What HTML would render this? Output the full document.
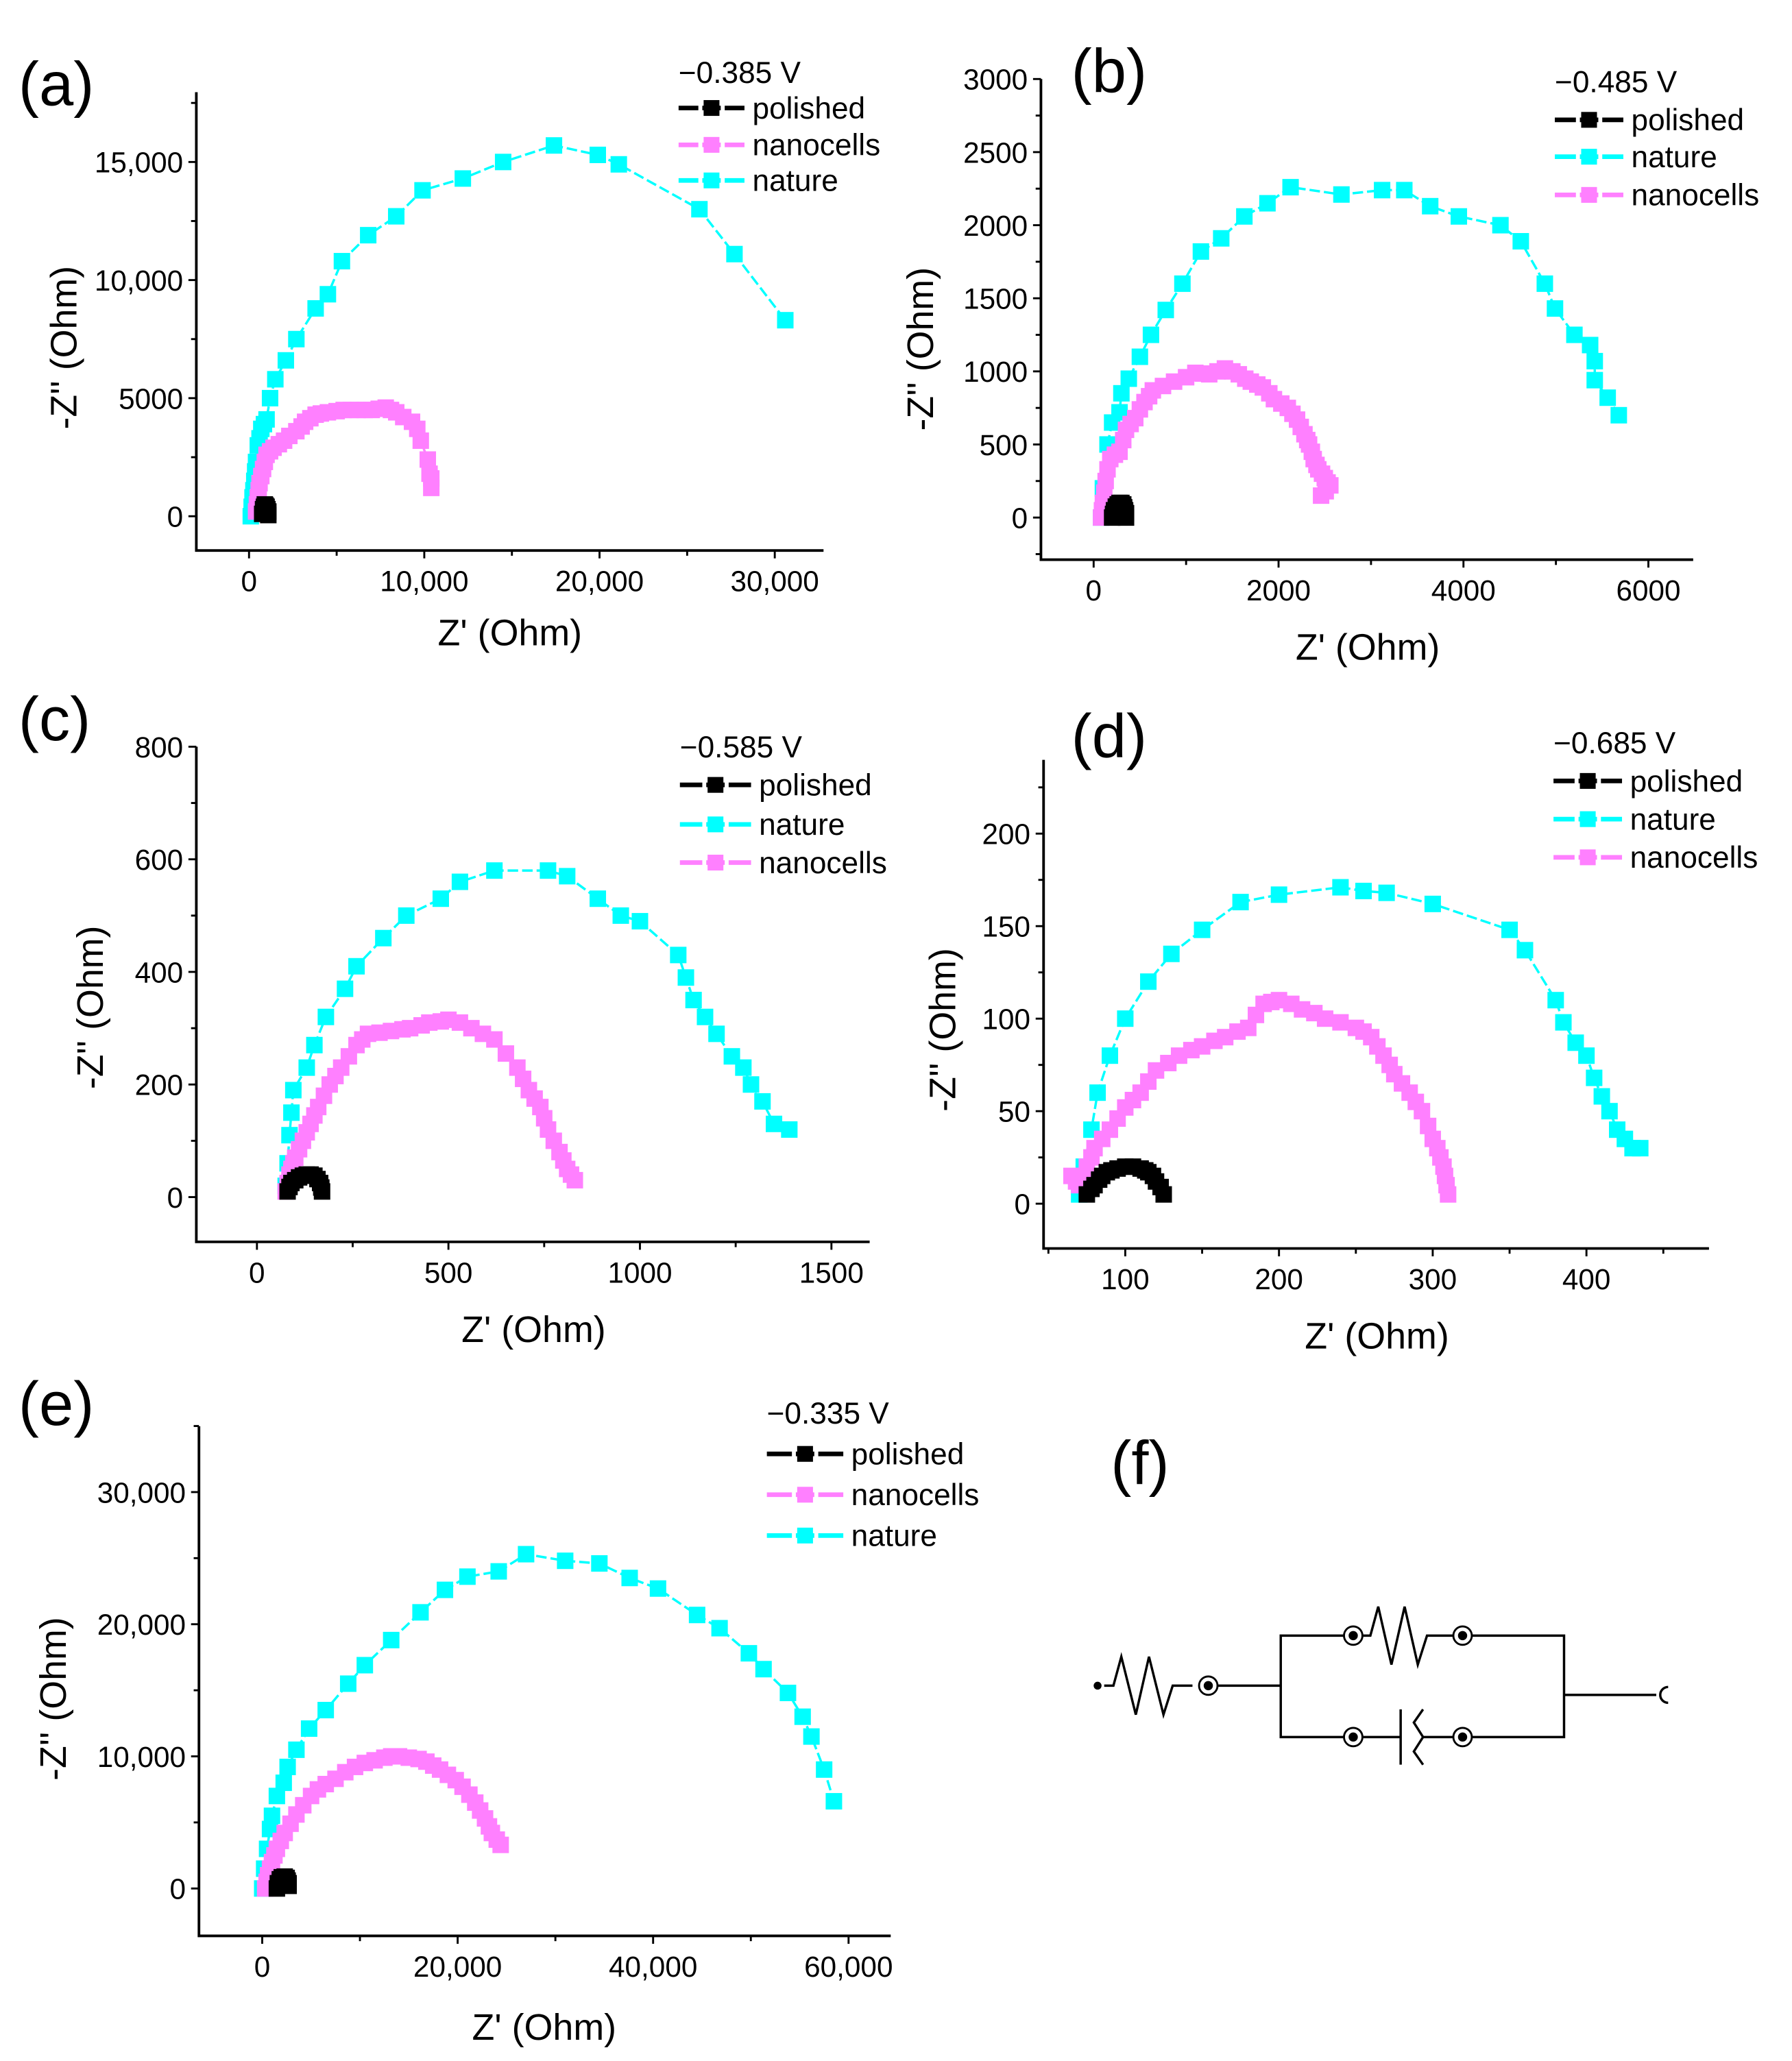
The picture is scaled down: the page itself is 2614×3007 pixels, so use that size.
<!DOCTYPE html>
<html><head><meta charset="utf-8"><style>
html,body{margin:0;padding:0;background:#fff}
svg{display:block}
text{font-family:"Liberation Sans",Arial,sans-serif;fill:#000}
</style></head><body>
<svg id="fig" xmlns="http://www.w3.org/2000/svg" width="2614" height="3007" viewBox="0 0 1360 1565" preserveAspectRatio="none"></svg>
<script>
// ---- Panel (a) data ----
const aNatureX=[100,150,200,250,300,350,400,500,600,700,850,1000,1200,1500,2100,2700,3800,4500,5300,6800,8400,9900,12200,14500,17400,19900,21100,25700,27700,30600];
const aNatureY=[0,400,800,1100,1500,1900,2300,3000,3300,3700,3900,4100,5000,5800,6600,7500,8800,9400,10800,11900,12700,13800,14300,15000,15700,15300,14900,13000,11100,8300];
const aNanoX=[400,450,500,550,600,700,800,900,1000,1200,1400,1700,2000,2300,2700,3000,3200,3500,3800,4100,4500,5000,5400,5800,6200,6600,7000,7400,7800,8100,8400,8800,9300,9600,9800,10200,10300,10400,10400];
const aNanoY=[200,500,800,1100,1400,1700,2000,2300,2600,2750,2900,3050,3200,3400,3600,3800,4000,4150,4300,4350,4400,4450,4500,4500,4500,4500,4500,4550,4600,4500,4400,4200,4000,3700,3200,2400,1800,1600,1200];
const aPolX=[750,800,850,900,950,1000,1050,1100,1100];
const aPolY=[100,300,400,500,450,400,300,200,50];
// ---- Panel (b) data ----
const bNatureX=[80,100,150,200,280,300,380,500,620,780,960,1160,1380,1630,1880,2130,2680,3120,3360,3640,3950,4400,4620,4880,4990,5200,5370,5420,5420,5560,5680];
const bNatureY=[0,200,500,650,720,850,950,1100,1250,1420,1600,1820,1910,2060,2150,2260,2210,2240,2240,2130,2060,2000,1890,1600,1430,1250,1180,1070,940,820,700];
const bNanoX=[80,90,100,115,130,150,180,230,280,320,350,400,450,500,550,600,640,750,870,1000,1100,1180,1250,1340,1420,1500,1570,1640,1700,1770,1830,1900,1950,2030,2100,2150,2200,2240,2280,2310,2330,2360,2380,2410,2430,2470,2500,2530,2560,2510,2460];
const bNanoY=[0,50,100,170,250,330,400,430,450,530,600,640,680,740,790,830,870,900,930,960,990,985,980,1000,1020,1000,980,950,930,910,890,850,810,780,750,710,670,620,570,530,500,450,400,360,330,300,270,240,220,180,150];
const bPolX=[200,210,220,240,260,280,300,320,330,340,350,350];
const bPolY=[0,25,50,75,90,100,100,90,70,50,30,0];
// ---- Panel (c) data ----
const cNatureX=[75,80,85,90,95,130,150,180,230,260,330,390,480,530,620,760,810,890,950,1000,1100,1120,1140,1170,1200,1240,1270,1290,1320,1350,1390];
const cNatureY=[20,60,110,150,190,230,270,320,370,410,460,500,530,560,580,580,570,530,500,490,430,390,350,320,290,250,230,200,170,130,120];
const cNanoX=[75,80,85,90,95,100,110,120,130,140,150,160,175,190,205,220,240,260,275,290,320,350,380,400,430,450,480,500,530,560,590,620,650,680,695,710,725,740,750,760,775,790,800,810,820,830];
const cNanoY=[10,25,40,50,60,70,85,100,115,130,145,160,180,200,215,230,250,270,280,290,292,295,298,300,305,310,312,315,310,300,290,280,255,230,210,190,175,160,140,120,100,80,65,50,40,30];
const cPolX=[80,85,90,100,110,120,130,140,150,158,165,168,170];
const cPolY=[10,18,25,30,35,38,40,40,38,32,25,17,10];
// ---- Panel (d) data ----
const dNatureX=[70,73,78,82,90,100,115,130,150,175,200,240,255,270,300,350,360,380,385,393,400,405,410,415,420,425,430,435];
const dNatureY=[5,20,40,60,80,100,120,135,148,163,167,171,169,168,162,148,137,110,98,87,80,68,58,50,40,35,30,30];
const dNanoX=[65,68,70,73,75,78,80,85,90,95,100,105,110,115,120,128,135,143,150,158,165,173,180,185,190,195,200,208,215,223,230,240,250,255,260,264,268,272,275,280,285,289,293,297,300,303,305,307,308,309,310];
const dNanoY=[15,12,10,15,20,25,30,35,40,46,52,56,60,66,72,76,80,83,85,88,90,93,95,102,108,109,110,108,105,103,100,98,95,93,90,85,80,75,70,65,60,55,50,42,35,30,25,20,15,10,5];
const dPolX=[75,78,80,83,85,88,91,95,100,105,110,113,115,118,120,123,125];
const dPolY=[5,8,10,13,15,17,18,19,20,20,19,18,17,15,12,9,5];
// ---- Panel (e) data ----
const eNatureX=[0,200,500,800,1000,1500,2200,2600,3500,4800,6500,8800,10500,13200,16200,18700,21000,24200,27000,31000,34500,37600,40500,44500,46800,49800,51300,53800,55300,56200,57500,58500];
const eNatureY=[0,1500,3000,4500,5500,7000,8000,9200,10500,12100,13500,15500,16900,18800,20900,22600,23600,24000,25300,24800,24600,23500,22700,20700,19700,17800,16600,14800,13000,11500,9000,6600];
const eNanoX=[300,450,600,800,1000,1250,1500,1900,2300,2900,3500,4200,5000,5700,6500,7500,8500,9500,10500,11500,12500,13200,14000,15000,16000,16800,17500,18200,19000,19800,20500,21200,21800,22300,22800,23200,23500,24000,24400];
const eNanoY=[0,500,1000,1500,2000,2500,3000,3600,4200,4900,5600,6300,7000,7500,7900,8300,8800,9200,9500,9700,9900,10000,10000,9900,9800,9600,9300,9000,8600,8200,7700,7100,6500,5900,5300,4700,4200,3700,3300];
const ePolX=[1500,1600,1800,2000,2300,2500,2600,2700,2700];
const ePolY=[0,400,700,850,900,800,600,400,200];
// ---- tick labels ----
const aXTicks=[0,10000,20000,30000], aXLabels=["0","10,000","20,000","30,000"];
const aYTicks=[0,5000,10000,15000], aYLabels=["0","5000","10,000","15,000"];
const bXTicks=[0,2000,4000,6000], bXLabels=["0","2000","4000","6000"];
const bYTicks=[0,500,1000,1500,2000,2500,3000], bYLabels=["0","500","1000","1500","2000","2500","3000"];
const cXTicks=[0,500,1000,1500], cXLabels=["0","500","1000","1500"];
const cYTicks=[0,200,400,600,800], cYLabels=["0","200","400","600","800"];
const dXTicks=[100,200,300,400], dXLabels=["100","200","300","400"];
const dYTicks=[0,50,100,150,200], dYLabels=["0","50","100","150","200"];
const eXTicks=[0,20000,40000,60000], eXLabels=["0","20,000","40,000","60,000"];
const eYTicks=[0,10000,20000,30000], eYLabels=["0","10,000","20,000","30,000"];

const NS="http://www.w3.org/2000/svg";
const svg=document.getElementById('fig');
function el(tag,attrs,parent){const e=document.createElementNS(NS,tag);for(const k in attrs)e.setAttribute(k,attrs[k]);(parent||svg).appendChild(e);return e;}
const COL={pol:"#000000",nano:"#ff80ff",nat:"#00ffff"};
const MS=12.5;

function panel(p){
  const g=el('g',{});
  
  
  const sx=v=>p.x0+(v-p.xv0)*(p.x1-p.x0)/(p.xv1-p.xv0);
  const sy=v=>p.y0+(v-p.yv0)*(p.y1-p.y0)/(p.yv1-p.yv0);
  const ax=el('path',{d:`M${p.axL},${p.axT}V${p.axB}H${p.axR}`,fill:'none',stroke:'#000','stroke-width':2},g);
  
  
  const xstep=p.xt[1]-p.xt[0], ystep=p.yt[1]-p.yt[0];
  for(let v=p.xt[0]-xstep;v<=p.xt[p.xt.length-1]+xstep;v+=xstep/2){
    const x=sx(v); if(x<p.axL||x>p.axR)continue;
    const major=p.xt.includes(v);
    el('line',{x1:x,x2:x,y1:p.axB,y2:p.axB+(major?6:4),stroke:'#000','stroke-width':1.5},g);
  }
  p.xt.forEach((v,i)=>{const t=el('text',{x:sx(v),y:p.axB+31,'text-anchor':'middle','font-size':22},g);t.textContent=p.xl[i];
    });
  for(let v=p.yt[0]-ystep;v<=p.yt[p.yt.length-1]+ystep;v+=ystep/2){
    const y=sy(v); if(y<p.axT-1||y>p.axB)continue;
    const major=p.yt.includes(v);
    el('line',{x1:p.axL,x2:p.axL-(major?6:4),y1:y,y2:y,stroke:'#000','stroke-width':1.5},g);
  }
  p.yt.forEach((v,i)=>{const t=el('text',{x:p.axL-10,y:sy(v)+8,'text-anchor':'end','font-size':22},g);t.textContent=p.yl[i];
    });
  const xt=el('text',{x:p.xtx,y:p.xty,'text-anchor':'middle','font-size':28},g);xt.textContent="Z' (Ohm)";
  
  const yt=el('text',{x:0,y:0,'text-anchor':'middle','font-size':28,transform:`translate(${p.ytx},${p.yty}) rotate(-90)`},g);yt.textContent="-Z'' (Ohm)";
  
  const pl=el('text',{x:p.lx,y:p.ly,'font-size':47},g);pl.textContent='('+p.id+')';
  
  p.series.forEach(s=>{
    const pts=s.X.map((v,i)=>sx(v)+','+sy(s.Y[i])).join(' ');
    const line=el('polyline',{points:pts,fill:'none',stroke:s.c,'stroke-width':1.8,'stroke-dasharray':s.k==='pol'?'none':'8 3'},g);
    
    s.X.forEach((v,i)=>{
      const m=el('rect',{x:sx(v)-MS/2,y:sy(s.Y[i])-MS/2,width:MS,height:MS,fill:s.c},g);
      
      
    });
  });
  const lt=el('text',{x:p.lgx,y:p.lgy[0]+8,'font-size':23},g);lt.textContent=p.volt;
  
  p.lorder.forEach((k,i)=>{
    const y=p.lgy[i+1];const c=COL[k];
    const lg=el('g',{},g);
    
    
    el('line',{x1:p.lgx,x2:p.lgx+p.lgw,y1:y,y2:y,stroke:c,'stroke-width':3.5},lg);
    el('rect',{x:p.lgx+p.lgw/2-6,y:y-6,width:12,height:12,fill:c},lg);
    el('rect',{x:p.lgx+p.lgw/2-10,y:y-3,width:3,height:6,fill:'#fff'},lg);
    el('rect',{x:p.lgx+p.lgw/2+7,y:y-3,width:3,height:6,fill:'#fff'},lg);
    const t=el('text',{x:p.lgx+p.lgw+6,y:y+8,'font-size':23},lg);
    t.textContent={pol:'polished',nano:'nanocells',nat:'nature'}[k];
  });
}
const S=(k,X,Y)=>({k,X,Y,c:COL[k]});
panel({id:'a',axL:149,axT:70,axB:418,axR:625,x0:189,x1:588,xv0:0,xv1:30000,y0:392,y1:123,yv0:0,yv1:15000,
  xt:aXTicks,xl:aXLabels,yt:aYTicks,yl:aYLabels,xtx:387,xty:490,ytx:58,yty:264,lx:14,ly:80,
  volt:'\u22120.385 V',lgx:515,lgy:[55,82,110,137],lgw:50,lorder:['pol','nano','nat'],
  series:[S('nat',aNatureX,aNatureY),S('nano',aNanoX,aNanoY),S('pol',aPolX,aPolY)]});
panel({id:'b',axL:790,axT:60,axB:425,axR:1285,x0:830,x1:1251,xv0:0,xv1:6000,y0:393,y1:60,yv0:0,yv1:3000,
  xt:bXTicks,xl:bXLabels,yt:bYTicks,yl:bYLabels,xtx:1038,xty:501,ytx:708,yty:265,lx:813,ly:70,
  volt:'\u22120.485 V',lgx:1180,lgy:[62,91,119,148],lgw:52,lorder:['pol','nat','nano'],
  series:[S('nat',bNatureX,bNatureY),S('nano',bNanoX,bNanoY),S('pol',bPolX,bPolY)]});
panel({id:'c',axL:149,axT:567,axB:943,axR:660,x0:195,x1:631,xv0:0,xv1:1500,y0:909,y1:567,yv0:0,yv1:800,
  xt:cXTicks,xl:cXLabels,yt:cYTicks,yl:cYLabels,xtx:405,xty:1019,ytx:78,yty:765,lx:14,ly:562,
  volt:'\u22120.585 V',lgx:516,lgy:[567,596,626,655],lgw:54,lorder:['pol','nat','nano'],
  series:[S('nat',cNatureX,cNatureY),S('nano',cNanoX,cNanoY),S('pol',cPolX,cPolY)]});
panel({id:'d',axL:792,axT:577,axB:948,axR:1297,x0:854,x1:1204,xv0:100,xv1:400,y0:914,y1:633,yv0:0,yv1:200,
  xt:dXTicks,xl:dXLabels,yt:dYTicks,yl:dYLabels,xtx:1045,xty:1024,ytx:725,yty:782,lx:813,ly:575,
  volt:'\u22120.685 V',lgx:1179,lgy:[564,593,622,651],lgw:52,lorder:['pol','nat','nano'],
  series:[S('nat',dNatureX,dNatureY),S('nano',dNanoX,dNanoY),S('pol',dPolX,dPolY)]});
panel({id:'e',axL:151,axT:1083,axB:1470,axR:676,x0:199,x1:644,xv0:0,xv1:60000,y0:1434,y1:1133,yv0:0,yv1:30000,
  xt:eXTicks,xl:eXLabels,yt:eYTicks,yl:eYLabels,xtx:413,xty:1549,ytx:50,yty:1290,lx:14,ly:1082,
  volt:'\u22120.335 V',lgx:582,lgy:[1073,1104,1135,1166],lgw:58,lorder:['pol','nano','nat'],
  series:[S('nat',eNatureX,eNatureY),S('nano',eNanoX,eNanoY),S('pol',ePolX,ePolY)]});
</script>
<script>
(function(){
const NS="http://www.w3.org/2000/svg";const svg=document.getElementById('fig');
const g=document.createElementNS(NS,'g');svg.appendChild(g);


g.innerHTML=`
<text x="843" y="1127" font-size="47">(f)</text>
<circle cx="833" cy="1280" r="3" fill="#000"/>
<path d="M838,1280H845L851,1258L862,1302L872,1258L883,1302L890,1280H905" fill="none" stroke="#000" stroke-width="1.8"/>
<circle cx="917" cy="1280" r="7" fill="#fff" stroke="#000" stroke-width="1.5"/><circle cx="917" cy="1280" r="3.5" fill="#000"/>
<path d="M924,1280H972V1242H1020M972,1280V1319H1020M1034,1242H1040L1046,1220L1056,1264L1066,1220L1076,1264L1083,1242H1103M1117,1242H1187V1319H1117M1034,1319H1063M1080,1319H1103M1187,1287H1257" fill="none" stroke="#000" stroke-width="1.8"/>
<path d="M1063,1298V1340M1080,1298L1073,1308L1080,1319L1073,1330L1080,1340" fill="none" stroke="#000" stroke-width="1.8"/>
<path d="M1266,1281A6,6 0 1 0 1266,1293" fill="none" stroke="#000" stroke-width="1.8"/>
<circle cx="1027" cy="1242" r="7" fill="#fff" stroke="#000" stroke-width="1.5"/><circle cx="1027" cy="1242" r="3.5" fill="#000"/>
<circle cx="1110" cy="1242" r="7" fill="#fff" stroke="#000" stroke-width="1.5"/><circle cx="1110" cy="1242" r="3.5" fill="#000"/>
<circle cx="1027" cy="1319" r="7" fill="#fff" stroke="#000" stroke-width="1.5"/><circle cx="1027" cy="1319" r="3.5" fill="#000"/>
<circle cx="1110" cy="1319" r="7" fill="#fff" stroke="#000" stroke-width="1.5"/><circle cx="1110" cy="1319" r="3.5" fill="#000"/>`;
})();
</script>
</body></html>
